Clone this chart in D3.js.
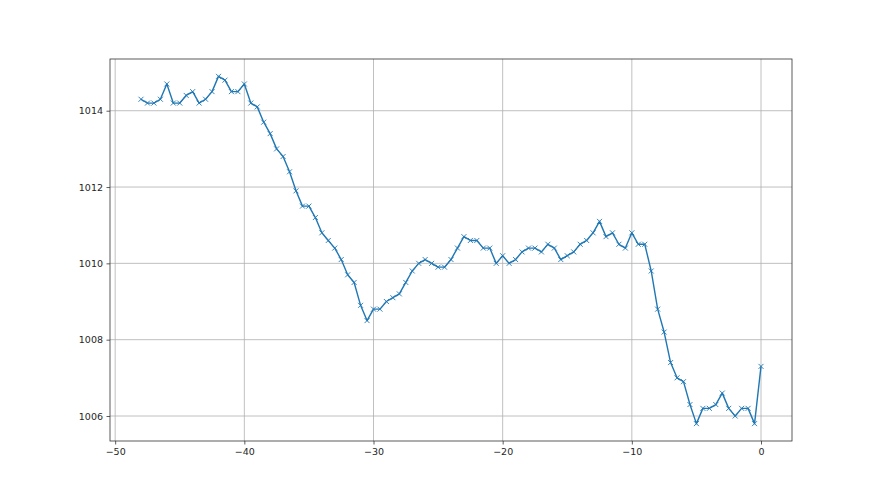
<!DOCTYPE html>
<html>
<head>
<meta charset="utf-8">
<script src="https://cdn.jsdelivr.net/npm/d3@7"></script>
<style>
  body { margin: 0; background: #fff; }
  svg { display: block; }
  .tick text { font-family: "DejaVu Sans", sans-serif; font-size: 9.5px; fill: #262626; }
</style>
</head>
<body>
<div id="chart"></div>
<script>
// hours relative to now, step 0.5
var hours = d3.range(97).map(function (i) { return -48 + i * 0.5; });

// pressure readings (hPa)
var pressure = [
  1014.3, 1014.2, 1014.2, 1014.3, 1014.7, 1014.2, 1014.2, 1014.4, 1014.5, 1014.2,
  1014.3, 1014.5, 1014.9, 1014.8, 1014.5, 1014.5, 1014.7, 1014.2, 1014.1, 1013.7,
  1013.4, 1013.0, 1012.8, 1012.4, 1011.9, 1011.5, 1011.5, 1011.2, 1010.8, 1010.6,
  1010.4, 1010.1, 1009.7, 1009.5, 1008.9, 1008.5, 1008.8, 1008.8, 1009.0, 1009.1,
  1009.2, 1009.5, 1009.8, 1010.0, 1010.1, 1010.0, 1009.9, 1009.9, 1010.1, 1010.4,
  1010.7, 1010.6, 1010.6, 1010.4, 1010.4, 1010.0, 1010.2, 1010.0, 1010.1, 1010.3,
  1010.4, 1010.4, 1010.3, 1010.5, 1010.4, 1010.1, 1010.2, 1010.3, 1010.5, 1010.6,
  1010.8, 1011.1, 1010.7, 1010.8, 1010.5, 1010.4, 1010.8, 1010.5, 1010.5, 1009.8,
  1008.8, 1008.2, 1007.4, 1007.0, 1006.9, 1006.3, 1005.8, 1006.2, 1006.2, 1006.3,
  1006.6, 1006.2, 1006.0, 1006.2, 1006.2, 1005.8, 1007.3
];

var xTicks = [-50, -40, -30, -20, -10, 0];
var yTicks = [1006, 1008, 1010, 1012, 1014];

var width = 880, height = 495;
var margin = { top: 59, right: 88, bottom: 54, left: 110 };
var w = width - margin.left - margin.right,
    h = height - margin.top - margin.bottom;

var data = hours.map(function (t, i) { return { t: t, p: pressure[i] }; });

// matplotlib style 5% padding
var xPad = (d3.max(hours) - d3.min(hours)) * 0.05;
var yPad = (d3.max(pressure) - d3.min(pressure)) * 0.05;

var x = d3.scaleLinear()
  .domain([d3.min(hours) - xPad, d3.max(hours) + xPad])
  .range([0, w]);
var y = d3.scaleLinear()
  .domain([d3.min(pressure) - yPad, d3.max(pressure) + yPad])
  .range([h, 0]);

var svg = d3.select("#chart").append("svg")
  .attr("width", width)
  .attr("height", height)
  .append("g")
  .attr("transform", "translate(" + margin.left + "," + margin.top + ")");

// grid
svg.append("g").selectAll("line").data(xTicks).enter().append("line")
  .attr("x1", function (d) { return x(d); }).attr("x2", function (d) { return x(d); })
  .attr("y1", 0).attr("y2", h)
  .attr("stroke", "#b0b0b0").attr("stroke-width", 0.8);
svg.append("g").selectAll("line").data(yTicks).enter().append("line")
  .attr("y1", function (d) { return y(d); }).attr("y2", function (d) { return y(d); })
  .attr("x1", 0).attr("x2", w)
  .attr("stroke", "#b0b0b0").attr("stroke-width", 0.8);

// axes
var xAxis = svg.append("g")
  .attr("transform", "translate(0," + h + ")")
  .call(d3.axisBottom(x).tickValues(xTicks).tickSize(3.5).tickPadding(3.5)
    .tickFormat(function (d) { return d < 0 ? "\u2212" + Math.abs(d) : d; }));
var yAxis = svg.append("g")
  .call(d3.axisLeft(y).tickValues(yTicks).tickSize(3.5).tickPadding(3.5)
    .tickFormat(d3.format("d")));
[xAxis, yAxis].forEach(function (a) {
  a.select(".domain").remove();
  a.selectAll(".tick line").attr("stroke", "#333").attr("stroke-width", 0.8);
});

// frame
svg.append("rect")
  .attr("x", 0).attr("y", 0).attr("width", w).attr("height", h)
  .attr("fill", "none").attr("stroke", "#333").attr("stroke-width", 0.8);

// line
var line = d3.line()
  .x(function (d) { return x(d.t); })
  .y(function (d) { return y(d.p); });

svg.append("path")
  .datum(data)
  .attr("d", line)
  .attr("fill", "none")
  .attr("stroke", "#1f77b4")
  .attr("stroke-width", 1.4)
  .attr("stroke-linejoin", "round");

// x markers
var m = 2.5;
svg.append("g").selectAll("path").data(data).enter().append("path")
  .attr("d", function (d) {
    var cx = x(d.t), cy = y(d.p);
    return "M" + (cx - m) + "," + (cy - m) + "L" + (cx + m) + "," + (cy + m) +
      "M" + (cx - m) + "," + (cy + m) + "L" + (cx + m) + "," + (cy - m);
  })
  .attr("stroke", "#1f77b4")
  .attr("stroke-width", 0.9)
  .attr("fill", "none");
</script>
</body>
</html>
